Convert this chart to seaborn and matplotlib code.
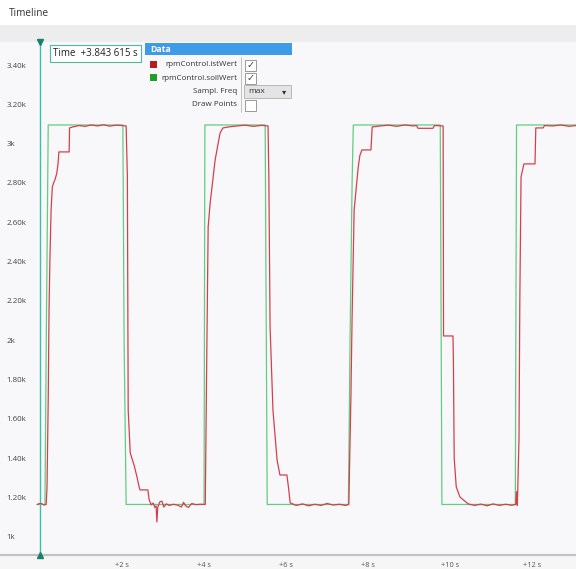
import numpy as np
import pandas as pd
import matplotlib
matplotlib.use("Agg")
import matplotlib.pyplot as plt
from matplotlib.patches import Rectangle
from matplotlib.ticker import FixedLocator
import seaborn as sns

sns.set_style("white")
plt.rcParams['font.family'] = ['Open Sans', 'DejaVu Sans']

#%% data (time in s relative to cursor, rpm)
# rpmControl.istWert
ist_t = [-0.07, 0.00, 0.05, 0.10, 0.15,
         0.17, 0.20, 0.22, 0.24, 0.27, 0.30, 0.34, 0.37, 0.41, 0.44, 0.46, 0.71, 0.72,
         0.80, 0.95, 1.10, 1.25, 1.40, 1.55, 1.70, 1.85, 2.00, 2.10,
         2.13, 2.15, 2.20, 2.30, 2.37, 2.42, 2.44, 2.63, 2.66, 2.71,
         2.76, 2.80, 2.83, 2.85, 2.87, 2.92, 2.97, 3.02, 3.08, 3.15, 3.25, 3.35,
         3.45, 3.50, 3.55, 3.62, 3.70, 3.80, 3.92, 4.03,
         4.06, 4.10, 4.15, 4.27, 4.39, 4.46,
         4.60, 4.80, 5.00, 5.20, 5.40, 5.56,
         5.58, 5.61, 5.68, 5.78, 5.85, 6.02, 6.06, 6.10,
         6.25, 6.40, 6.55, 6.70, 6.85, 7.00, 7.15, 7.30, 7.45, 7.53,
         7.58, 7.61, 7.66, 7.76, 7.80, 7.85, 8.07, 8.10,
         8.30, 8.50, 8.70, 8.90, 9.10, 9.18, 9.22, 9.58, 9.62, 9.83,
         9.84, 10.07, 10.08, 10.10, 10.15, 10.24, 10.44,
         10.60, 10.75, 10.90, 11.05, 11.20, 11.35, 11.50, 11.60, 11.62, 11.64,
         11.68, 11.70, 11.73, 11.76, 11.80, 12.07, 12.09, 12.27, 12.30,
         12.50, 12.70, 12.90, 13.07]
ist_v = [1165, 1170, 1168, 1162, 1165,
         1250, 1700, 2154, 2400, 2663, 2780, 2805, 2820, 2851, 2900, 2958, 2958, 3080,
         3085, 3092, 3088, 3095, 3090, 3096, 3089, 3094, 3092, 3090,
         2831, 1646, 1427, 1360, 1300, 1250, 1239, 1239, 1190, 1163,
         1172, 1150, 1158, 1076, 1150, 1178, 1182, 1152, 1168, 1160, 1166, 1162,
         1152, 1176, 1158, 1150, 1170, 1164, 1166, 1165,
         1800, 2576, 2700, 2917, 3054, 3080,
         3085, 3090, 3094, 3088, 3093, 3090,
         2831, 2068, 1646, 1392, 1315, 1315, 1250, 1173,
         1160, 1168, 1158, 1166, 1160, 1170, 1162, 1166, 1160, 1165,
         1700, 2119, 2663, 2881, 2940, 2968, 2968, 3085,
         3090, 3094, 3088, 3095, 3090, 3092, 3078, 3078, 3092, 3090,
         2022, 2022, 1900, 1400, 1254, 1203, 1168,
         1160, 1167, 1158, 1168, 1160, 1166, 1161, 1165, 1230, 1160,
         1500, 2200, 2831, 2860, 2897, 2897, 3080, 3080, 3092,
         3090, 3095, 3088, 3092]

# rpmControl.sollWert
soll_t = [-0.07, 0.12, 0.15, 0.20, 2.02, 2.05, 2.10, 4.00, 4.02, 5.49, 5.54,
          7.52, 7.56, 7.61, 7.64, 9.76, 9.80, 11.59, 11.62, 13.10]
soll_v = [1165, 1165, 1950, 3095, 3095, 2000, 1165, 1165, 3095, 3095, 1165,
          1165, 2000, 2800, 3095, 3095, 1165, 1165, 3095, 3095]

y_ticks = [1000, 1200, 1400, 1600, 1800, 2000, 2200, 2400, 2600, 2800, 3000, 3200, 3400]
y_labels = ['1k', '1.20k', '1.40k', '1.60k', '1.80k', '2k', '2.20k', '2.40k',
            '2.60k', '2.80k', '3k', '3.20k', '3.40k']
x_major = [2, 4, 6, 8, 10, 12]
x_labels = ['+2 s', '+4 s', '+6 s', '+8 s', '+10 s', '+12 s']
x_minor = [1, 3, 5, 7, 9, 11, 13]

ist = pd.DataFrame({'t': ist_t, 'rpm': ist_v})
soll = pd.DataFrame({'t': soll_t, 'rpm': soll_v})

#%% figure
W, H = 576, 569
def fx(x): return x / W
def fy(y): return 1 - y / H

fig = plt.figure(figsize=(W / 100, H / 100), dpi=100)
fig.patch.set_facecolor('white')
fig.add_artist(Rectangle((0, fy(42)), 1, 17 / H, transform=fig.transFigure,
                         fc='#ededed', ec='none', zorder=0))
fig.add_artist(Rectangle((0, 0), 1, 14 / H, transform=fig.transFigure,
                         fc='#f6f6f6', ec='none', zorder=0))
fig.text(fx(9), fy(14), 'Timeline', fontsize=7.2, color='#333333', va='center')

ax = fig.add_axes([0, 14 / H, 1, (555 - 42) / H])
ax.set_facecolor('#f8f8fb')
sns.lineplot(data=soll, x='t', y='rpm', ax=ax, color='#62cc80', lw=0.9,
             estimator=None, sort=False)
sns.lineplot(data=ist, x='t', y='rpm', ax=ax, color='#d3404c', lw=0.9,
             estimator=None, sort=False)
ax.set_xlim(-0.976, 13.07)
ax.set_ylim(908, 3517)
ax.set_xlabel('')
ax.set_ylabel('')

ax.set_yticks(y_ticks, labels=y_labels, ha='left')
ax.tick_params(axis='y', length=0, pad=-4.5, labelsize=5.7, labelcolor='#444444')
ax.set_xticks(x_major, labels=x_labels)
ax.xaxis.set_minor_locator(FixedLocator(x_minor))
ax.tick_params(axis='x', which='major', direction='out', length=4, width=0.6,
               color='#999999', labelsize=5.3, labelcolor='#555555', pad=1)
ax.tick_params(axis='x', which='minor', direction='out', length=3, width=0.6,
               color='#999999')
for s in ['top', 'right', 'left']:
    ax.spines[s].set_visible(False)
ax.spines['bottom'].set_color('#c2c2c2')
ax.spines['bottom'].set_linewidth(1.6)

# cursor
ax.axvline(0, color='#3cbfa5', lw=1.0, zorder=1)
ax.plot([0], [908], marker='^', color='#16826a', ms=4.5, clip_on=False, zorder=5)
ax.plot([0], [3517], marker='v', color='#16826a', ms=4.5, clip_on=False, zorder=5)

fig.text(fx(53), fy(53.5), 'Time  +3.843 615 s', fontsize=7, color='#222222',
         va='center', bbox=dict(boxstyle='square,pad=0.35', fc='white',
                                ec='#4fb8a0', lw=0.8))

#%% data panel
fig.add_artist(Rectangle((fx(145), fy(55)), fx(147), 12 / H, transform=fig.transFigure,
                         fc='#3e9be8', ec='none'))
fig.text(fx(150), fy(49), 'Data', fontsize=6.3, color='white', weight='bold', va='center')
fig.add_artist(Rectangle((fx(150), fy(68)), fx(7), 7 / H, transform=fig.transFigure,
                         fc='#b21e22', ec='none'))
fig.add_artist(Rectangle((fx(150), fy(81)), fx(7), 7 / H, transform=fig.transFigure,
                         fc='#1fa02a', ec='none'))
rows = [('rpmControl.istWert', 65), ('rpmControl.sollWert', 78),
        ('Sampl. Freq', 91.5), ('Draw Points', 105)]
for txt, yy in rows:
    fig.text(fx(237), fy(yy), txt, fontsize=5.8, color='#333333', ha='right', va='center')
fig.add_artist(plt.Line2D([fx(240.5), fx(240.5)], [fy(57), fy(112)],
                          transform=fig.transFigure, color='#b8b8b8', lw=0.6))
for yy, chk in [(65, True), (78, True), (105, False)]:
    fig.add_artist(Rectangle((fx(245), fy(yy + 5.5)), fx(11), 11 / H,
                             transform=fig.transFigure, fc='white', ec='#8a8a8a', lw=0.6))
    if chk:
        fig.text(fx(250.5), fy(yy), '\u2713', fontsize=7, color='#444444',
                 ha='center', va='center', family='DejaVu Sans')
fig.add_artist(Rectangle((fx(244), fy(98)), fx(47), 13 / H, transform=fig.transFigure,
                         fc='#e4e4e4', ec='#b0b0b0', lw=0.6))
fig.text(fx(248), fy(91.5), 'max', fontsize=6, color='#333333', va='center')
fig.text(fx(284), fy(91.5), '\u25be', fontsize=6, color='#333333', ha='center',
         va='center', family='DejaVu Sans')

fig.savefig('out.png', dpi=100)
